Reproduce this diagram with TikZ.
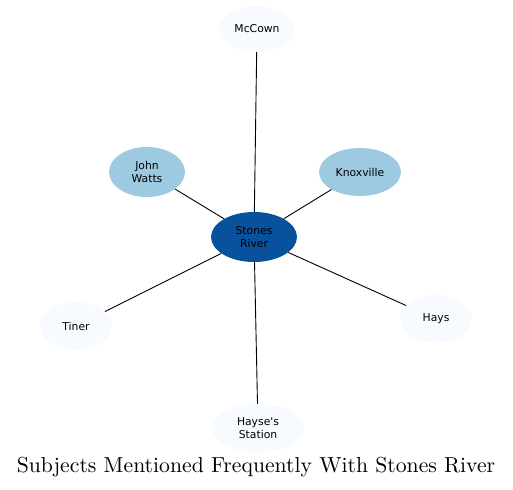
\documentclass[tikz,border=0pt]{standalone}
\usepackage{fontspec}
\usepackage{xcolor}
\usepackage{tikz}
\usetikzlibrary{shapes.geometric}
\newfontfamily\labelfont{DejaVu Sans}

\definecolor{hubblue}{HTML}{08519C}
\definecolor{midblue}{HTML}{9ECAE1}
\definecolor{paleblue}{HTML}{F7FBFF}

\tikzset{
    topic/.style={ellipse, inner sep=0pt, font=\labelfont\fontsize{10.8}{12.5}\selectfont, align=center},
    link/.style={draw=black, line width=0.9pt}
}

\begin{document}
\begin{tikzpicture}[x=1pt, y=-1pt]
    % Canvas
    \useasboundingbox (0,0) rectangle (513,489);

    % Hub
    \node[topic, fill=hubblue, minimum width=86pt, minimum height=50pt] (stones) at (254,237) {Stones\\River};

    % Linked subjects
    \node[topic, fill=paleblue, minimum width=76pt, minimum height=46pt] (mccown) at (257,29) {McCown};
    \node[topic, fill=midblue, minimum width=76pt, minimum height=50pt] (watts) at (147,172) {John\\Watts};
    \node[topic, fill=midblue, minimum width=82pt, minimum height=48pt] (knox) at (360,172) {Knoxville};
    \node[topic, fill=paleblue, minimum width=72pt, minimum height=48pt] (tiner) at (76,326) {Tiner};
    \node[topic, fill=paleblue, minimum width=72pt, minimum height=48pt] (hays) at (436,319) {Hays};
    \node[topic, fill=paleblue, minimum width=92pt, minimum height=48pt] (hayse) at (258,428) {Hayse's\\Station};

    % Edges
    \draw[link] (stones) -- (mccown);
    \draw[link] (stones) -- (watts);
    \draw[link] (stones) -- (knox);
    \draw[link] (stones) -- (tiner);
    \draw[link] (stones) -- (hays);
    \draw[link] (stones) -- (hayse);

    % Title
    \node (title) at (256,467) {\scalebox{2.17}{\fontsize{10}{12}\selectfont Subjects Mentioned Frequently With Stones River}};
\end{tikzpicture}
\end{document}
